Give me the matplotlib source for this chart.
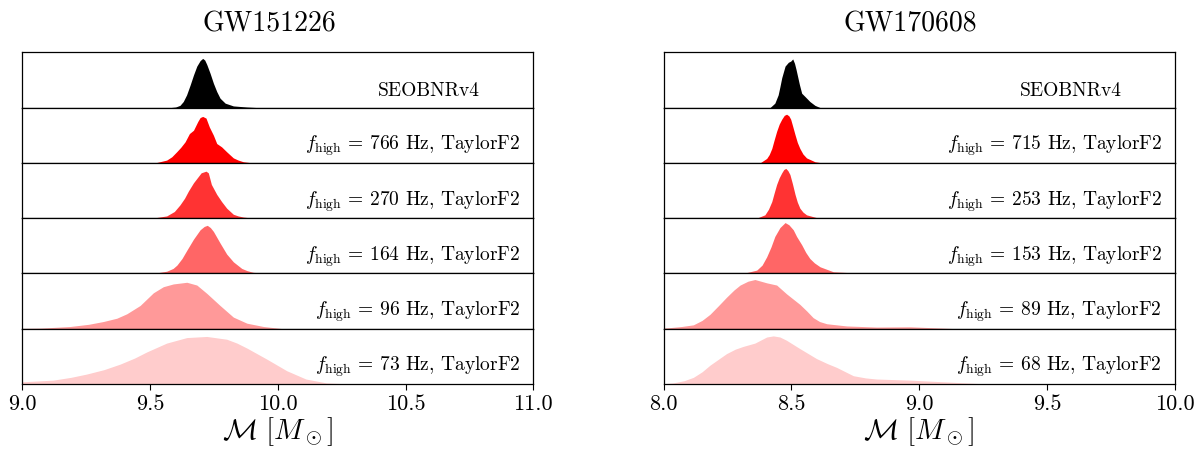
import matplotlib
matplotlib.use("Agg")
import matplotlib.pyplot as plt

plt.rcParams["font.family"] = "serif"
plt.rcParams["font.serif"] = ["cmr10", "DejaVu Serif"]
plt.rcParams["mathtext.fontset"] = "cm"
plt.rcParams["axes.formatter.use_mathtext"] = True

# ---- data (heights as fraction of each panel) ----
events = ["GW151226", "GW170608"]
xlims = [(9.0, 11.0), (8.0, 10.0)]
xticks = [[9.0, 9.5, 10.0, 10.5, 11.0], [8.0, 8.5, 9.0, 9.5, 10.0]]
colors = ["#000000", "#ff0000", "#ff3333", "#ff6666", "#ff9999", "#ffcccc"]

labels_151226 = ["SEOBNRv4",
                 r"$f_{\rm high}$ = 766 Hz, TaylorF2",
                 r"$f_{\rm high}$ = 270 Hz, TaylorF2",
                 r"$f_{\rm high}$ = 164 Hz, TaylorF2",
                 r"$f_{\rm high}$ = 96 Hz, TaylorF2",
                 r"$f_{\rm high}$ = 73 Hz, TaylorF2"]
labels_170608 = ["SEOBNRv4",
                 r"$f_{\rm high}$ = 715 Hz, TaylorF2",
                 r"$f_{\rm high}$ = 253 Hz, TaylorF2",
                 r"$f_{\rm high}$ = 153 Hz, TaylorF2",
                 r"$f_{\rm high}$ = 89 Hz, TaylorF2",
                 r"$f_{\rm high}$ = 68 Hz, TaylorF2"]

# GW151226
a_seob_x = [9.58, 9.60, 9.617, 9.63, 9.643, 9.657, 9.67, 9.683, 9.696, 9.706, 9.714,
            9.722, 9.735, 9.748, 9.761, 9.774, 9.794, 9.826, 9.879, 9.92]
a_seob_y = [0.0, 0.01, 0.04, 0.11, 0.23, 0.41, 0.59, 0.75, 0.85, 0.89, 0.86,
            0.78, 0.62, 0.44, 0.29, 0.17, 0.08, 0.03, 0.01, 0.0]
a_766_x = [9.52, 9.565, 9.585, 9.604, 9.62, 9.637, 9.654, 9.67, 9.687, 9.696, 9.706,
           9.719, 9.732, 9.748, 9.761, 9.78, 9.80, 9.826, 9.845, 9.865, 9.90]
a_766_y = [0.0, 0.05, 0.11, 0.2, 0.28, 0.38, 0.53, 0.59, 0.75, 0.82, 0.84,
           0.81, 0.65, 0.5, 0.35, 0.29, 0.2, 0.09, 0.05, 0.02, 0.0]
a_270_x = [9.51, 9.565, 9.595, 9.617, 9.635, 9.65, 9.67, 9.69, 9.70, 9.719, 9.728,
           9.74, 9.761, 9.78, 9.80, 9.826, 9.845, 9.865, 9.90]
a_270_y = [0.0, 0.04, 0.12, 0.24, 0.36, 0.49, 0.64, 0.76, 0.82, 0.85, 0.82,
           0.61, 0.43, 0.30, 0.18, 0.07, 0.04, 0.02, 0.0]
a_164_x = [9.513, 9.565, 9.59, 9.605, 9.625, 9.644, 9.67, 9.696, 9.712, 9.724, 9.736,
           9.748, 9.774, 9.80, 9.826, 9.859, 9.88, 9.904, 9.956]
a_164_y = [0.0, 0.04, 0.09, 0.15, 0.27, 0.42, 0.62, 0.79, 0.85, 0.87, 0.83,
           0.76, 0.55, 0.35, 0.21, 0.09, 0.05, 0.02, 0.0]
a_96_x = [9.0, 9.07, 9.187, 9.26, 9.317, 9.37, 9.409, 9.461, 9.513, 9.552, 9.591,
          9.644, 9.683, 9.722, 9.774, 9.826, 9.879, 9.944, 10.02]
a_96_y = [0.005, 0.01, 0.04, 0.08, 0.13, 0.19, 0.27, 0.42, 0.65, 0.76, 0.81,
          0.84, 0.79, 0.64, 0.42, 0.21, 0.10, 0.04, 0.0]
a_73_x = [9.0, 9.121, 9.19, 9.252, 9.32, 9.383, 9.44, 9.487, 9.565, 9.644, 9.722,
          9.80, 9.84, 9.879, 9.957, 10.035, 10.11, 10.19, 10.29]
a_73_y = [0.04, 0.07, 0.12, 0.18, 0.26, 0.36, 0.47, 0.58, 0.74, 0.84, 0.86,
          0.81, 0.74, 0.65, 0.45, 0.24, 0.09, 0.02, 0.0]

# GW170608
b_seob_x = [8.416, 8.435, 8.448, 8.455, 8.462, 8.475, 8.488, 8.497, 8.505, 8.512, 8.518,
            8.531, 8.54, 8.553, 8.572, 8.592, 8.612]
b_seob_y = [0.0, 0.08, 0.23, 0.38, 0.54, 0.75, 0.82, 0.84, 0.88, 0.80, 0.69,
            0.42, 0.26, 0.20, 0.11, 0.04, 0.0]
b_715_x = [8.377, 8.403, 8.413, 8.423, 8.432, 8.442, 8.452, 8.462, 8.472, 8.481, 8.49,
           8.497, 8.505, 8.514, 8.523, 8.533, 8.545, 8.559, 8.592, 8.62]
b_715_y = [0.0, 0.08, 0.15, 0.26, 0.41, 0.57, 0.70, 0.79, 0.86, 0.88, 0.85,
           0.79, 0.66, 0.51, 0.37, 0.26, 0.16, 0.09, 0.02, 0.0]
b_253_x = [8.364, 8.396, 8.41, 8.423, 8.432, 8.442, 8.452, 8.462, 8.47, 8.478, 8.486,
           8.494, 8.504, 8.514, 8.523, 8.533, 8.545, 8.559, 8.598, 8.63]
b_253_y = [0.0, 0.06, 0.16, 0.3, 0.45, 0.61, 0.73, 0.82, 0.88, 0.90, 0.86,
           0.79, 0.62, 0.43, 0.29, 0.18, 0.11, 0.06, 0.01, 0.0]
b_153_x = [8.311, 8.364, 8.385, 8.403, 8.42, 8.435, 8.455, 8.475, 8.49, 8.507, 8.52,
           8.54, 8.556, 8.572, 8.59, 8.612, 8.664, 8.742, 8.80]
b_153_y = [0.0, 0.06, 0.15, 0.30, 0.48, 0.67, 0.83, 0.92, 0.88, 0.79, 0.67,
           0.52, 0.38, 0.27, 0.19, 0.12, 0.03, 0.01, 0.0]
b_89_x = [8.0, 8.025, 8.07, 8.116, 8.15, 8.181, 8.215, 8.246, 8.275, 8.299, 8.33, 8.357,
          8.403, 8.442, 8.481, 8.533, 8.56, 8.585, 8.61, 8.638, 8.716, 8.833, 8.964,
          9.094, 9.15]
b_89_y = [0.01, 0.02, 0.04, 0.07, 0.15, 0.26, 0.42, 0.57, 0.70, 0.79, 0.86, 0.89,
          0.83, 0.79, 0.63, 0.44, 0.32, 0.20, 0.13, 0.09, 0.05, 0.03, 0.035,
          0.01, 0.0]
b_68_x = [8.0, 8.038, 8.08, 8.116, 8.15, 8.181, 8.215, 8.246, 8.28, 8.311, 8.357,
          8.403, 8.429, 8.455, 8.481, 8.533, 8.598, 8.64, 8.677, 8.742, 8.79, 8.833,
          8.964, 9.094, 9.225, 9.30]
b_68_y = [0.005, 0.02, 0.06, 0.12, 0.22, 0.34, 0.45, 0.55, 0.63, 0.68, 0.74,
          0.85, 0.87, 0.85, 0.79, 0.64, 0.46, 0.37, 0.30, 0.15, 0.11, 0.09,
          0.07, 0.04, 0.01, 0.0]

curves = [
    [(a_seob_x, a_seob_y), (a_766_x, a_766_y), (a_270_x, a_270_y),
     (a_164_x, a_164_y), (a_96_x, a_96_y), (a_73_x, a_73_y)],
    [(b_seob_x, b_seob_y), (b_715_x, b_715_y), (b_253_x, b_253_y),
     (b_153_x, b_153_y), (b_89_x, b_89_y), (b_68_x, b_68_y)],
]
labels = [labels_151226, labels_170608]

# ---- layout ----
W, H = 1199, 452
fig = plt.figure(figsize=(W / 100, H / 100), dpi=100)
col_left = [22.3 / W, 663.7 / W]
col_w = 511 / W
top = 1 - 53.3 / H
bottom = 1 - 385 / H
row_h = (top - bottom) / 6

for c in range(2):
    for r in range(6):
        ax = fig.add_axes([col_left[c], top - (r + 1) * row_h, col_w, row_h])
        xs, ys = curves[c][r]
        ax.fill_between(xs, 0, ys, color=colors[r], linewidth=0)
        ax.set_xlim(*xlims[c])
        ax.set_ylim(0, 1)
        ax.set_yticks([])
        for sp in ax.spines.values():
            sp.set_color("black")
            sp.set_linewidth(0.9)
        if r == 0:
            ax.text(0.896, 0.23, labels[c][r], transform=ax.transAxes,
                    ha="right", va="baseline", fontsize=14)
        else:
            ax.text(0.975, 0.25, labels[c][r], transform=ax.transAxes,
                    ha="right", va="baseline", fontsize=14)
        if r < 5:
            ax.tick_params(axis="x", bottom=False, labelbottom=False)
        else:
            ax.set_xticks(xticks[c])
            ax.set_xticklabels([f"{t:.1f}" for t in xticks[c]])
            ax.tick_params(axis="x", direction="out", length=4, labelsize=16, pad=3)
            ax.set_xlabel(r"$\mathcal{M}\ [M_\odot]$", fontsize=21, labelpad=1)
    fig.text(col_left[c] + col_w * 0.483, 1 - 32 / H, events[c],
             ha="center", va="baseline", fontsize=20)

fig.savefig("out.png", dpi=100)
